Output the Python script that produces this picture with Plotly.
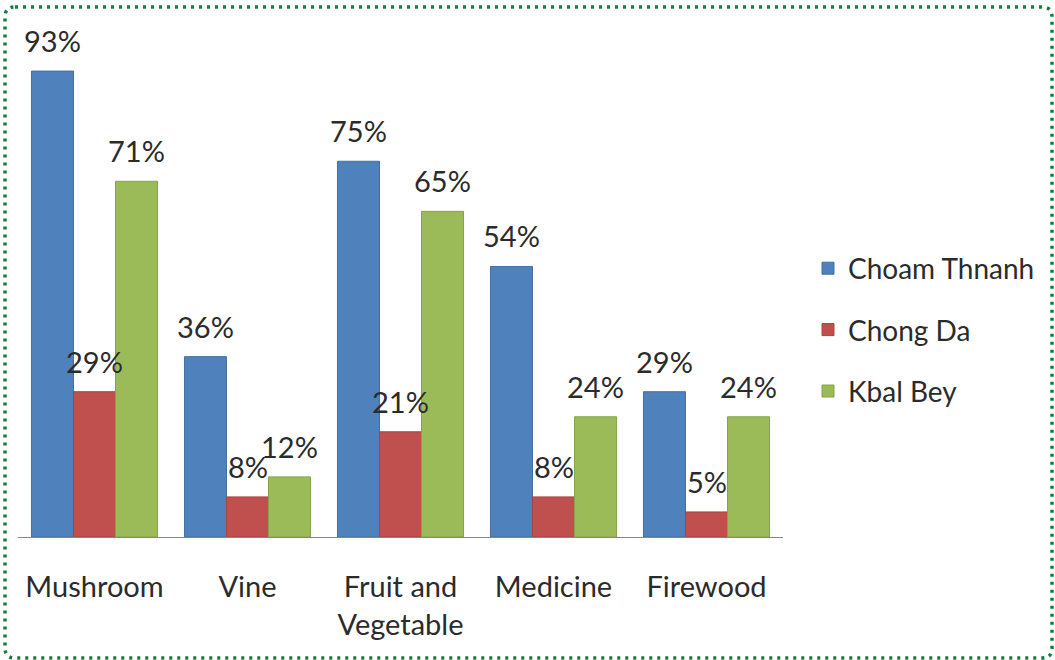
import plotly.graph_objects as go

categories = ["Mushroom", "Vine", "Fruit and<br>Vegetable", "Medicine", "Firewood"]
series_names = ["Choam Thnanh", "Chong Da", "Kbal Bey"]
choam_thnanh = [93, 36, 75, 54, 29]
chong_da = [29, 8, 21, 8, 5]
kbal_bey = [71, 12, 65, 24, 24]
series_values = [choam_thnanh, chong_da, kbal_bey]
colors = ["#4F81BD", "#C0504D", "#9BBB59"]
line_colors = ["#43709F", "#A54542", "#86A34C"]

FONT = "Lato"
TXT = "#2b2b2b"
W, H = 1055, 660
ML, MR, MT, MB = 18, 272, 36, 123
pw = W - ML - MR
ph = H - MT - MB

fig = go.Figure()
for name, vals, c, lc in zip(series_names, series_values, colors, line_colors):
    fig.add_trace(go.Bar(
        x=categories, y=vals, name=name, legendgroup=name,
        marker=dict(color=c, line=dict(color=lc, width=1)),
    ))

bargap = 0.176
cat_px = pw / len(categories)
bar_px = cat_px * (1 - bargap) / 3
for i, vals in enumerate(series_values):
    for cat, v in zip(categories, vals):
        fig.add_annotation(
            x=cat, y=v, xref="x", yref="y", text=f"{v}%",
            showarrow=False, xanchor="center", yanchor="bottom",
            xshift=(i - 1) * bar_px, yshift=11,
            font=dict(family=FONT, size=29, color=TXT),
        )

# dotted rounded border
def px2x(px):
    return (px - ML) / pw

def py2y(py):
    return (H - MB - py) / ph

x0, x1, y0, y1 = 5, 1052, 7, 658
r = 10
path = (f"M {px2x(x0 + r)},{py2y(y0)} L {px2x(x1 - r)},{py2y(y0)} "
        f"Q {px2x(x1)},{py2y(y0)} {px2x(x1)},{py2y(y0 + r)} "
        f"L {px2x(x1)},{py2y(y1 - r)} Q {px2x(x1)},{py2y(y1)} {px2x(x1 - r)},{py2y(y1)} "
        f"L {px2x(x0 + r)},{py2y(y1)} Q {px2x(x0)},{py2y(y1)} {px2x(x0)},{py2y(y1 - r)} "
        f"L {px2x(x0)},{py2y(y0 + r)} Q {px2x(x0)},{py2y(y0)} {px2x(x0 + r)},{py2y(y0)} Z")
fig.add_shape(type="path", path=path, xref="paper", yref="paper",
              line=dict(color="#0E7F3E", width=3.5, dash="3px,5px"))

fig.update_layout(
    width=W, height=H,
    margin=dict(l=ML, r=MR, t=MT, b=MB),
    paper_bgcolor="white", plot_bgcolor="white",
    barmode="group", bargap=bargap, bargroupgap=0,
    font=dict(family=FONT, size=29, color=TXT),
    showlegend=True,
    legend=dict(x=px2x(808), xanchor="left", y=py2y(330), yanchor="middle",
                traceorder="grouped", tracegroupgap=22,
                font=dict(family=FONT, size=28, color=TXT),
                bgcolor="rgba(0,0,0,0)"),
    xaxis=dict(showline=True, linecolor="#868686", linewidth=1,
               ticks="", showgrid=False, ticklabelstandoff=24,
               tickfont=dict(family=FONT, size=29, color=TXT)),
    yaxis=dict(range=[0, 100], visible=False, showgrid=False),
)

fig.write_html("out.html")
